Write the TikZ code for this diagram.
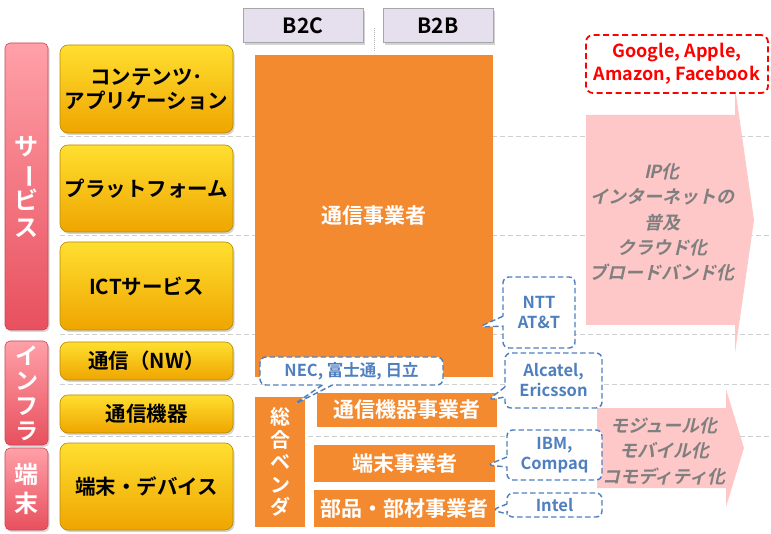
\documentclass[tikz,border=0pt]{standalone}
\usepackage{fontspec}
\setmainfont{Noto Sans CJK JP}[BoldFont={* Bold}]
\newfontfamily\jpsl{Noto Sans CJK JP Bold}[FakeSlant=0.22]
\usetikzlibrary{shadows,shapes.callouts}
\definecolor{orng}{HTML}{F38A30}
\definecolor{ytop}{HTML}{FFDF30}
\definecolor{ymid}{HTML}{FFC400}
\definecolor{ybot}{HTML}{EFA500}
\definecolor{ybrd}{HTML}{B88A00}
\definecolor{ptop}{HTML}{FFA0A8}
\definecolor{pbot}{HTML}{E8505E}
\definecolor{pbrd}{HTML}{C84858}
\definecolor{lav}{HTML}{E6E0EE}
\definecolor{cblue}{HTML}{4F7FBF}
\definecolor{lpink}{HTML}{FFC8C8}
\definecolor{grtxt}{HTML}{7F7F7F}
\definecolor{sepc}{HTML}{D0D0D0}
\tikzset{
  ybox/.style={draw=ybrd, line width=0.6pt, rounded corners=8pt, top color=ytop, middle color=ymid, bottom color=ybot,
    drop shadow={opacity=0.35, shadow xshift=1.5pt, shadow yshift=-2pt},
    minimum width=173pt, font=\bfseries\fontsize{20.5}{24}\selectfont, align=center, inner sep=0pt},
  pbox/.style={draw=pbrd, line width=0.6pt, rounded corners=5pt, top color=ptop, bottom color=pbot,
    drop shadow={opacity=0.3, shadow xshift=1.5pt, shadow yshift=-2pt},
    minimum width=43pt, text=white, align=center, inner sep=0pt},
  hbox/.style={draw=gray!70, line width=1pt, fill=lav, minimum height=34pt,
    drop shadow={opacity=0.35, shadow xshift=1.5pt, shadow yshift=-2pt},
    font=\bfseries\fontsize{21}{23}\selectfont, inner sep=0pt},
  obox/.style={fill=orng, text=white, inner sep=0pt, align=center},
  bcall/.style={rectangle callout, draw=cblue, dash pattern=on 5.5pt off 3pt, line width=1.4pt, rounded corners=6pt, fill=white,
    text=cblue, font=\bfseries\fontsize{16.5}{20}\selectfont, align=center, inner sep=0pt, callout pointer width=10pt},
  sep/.style={draw=sepc, dash pattern=on 5pt off 3pt, line width=0.9pt},
  arrtxt/.style={text=grtxt, align=center, font=\jpsl\fontsize{18}{25.3}\selectfont}
}
\begin{document}
\begin{tikzpicture}[x=1pt,y=-1pt]
\useasboundingbox (0,0) rectangle (771,534);
% separators
\foreach \yy in {136,235,334,384,436}{ \path[sep] (60,\yy) -- (771,\yy); }
% pink arrows
\fill[lpink] (586,115) -- (735,115) -- (735,87) -- (754,220) -- (735,353) -- (735,325) -- (586,325) -- cycle;
\fill[lpink] (597,408) -- (726,408) -- (726,389) -- (744,448) -- (726,507) -- (726,488) -- (597,488) -- cycle;
\node[arrtxt] (t1) at (662,222.5) {IP化\\インターネットの\\普及\\クラウド化\\ブロードバンド化};
\node[arrtxt] (t2) at (664,451) {モジュール化\\モバイル化\\コモディティ化};
% left labels
\node[pbox, minimum height=287pt, font=\bfseries\fontsize{24}{27}\selectfont] (s1) at (26.5,186.5) {サ\\\rotatebox[origin=c]{-90}{ー}\\ビ\\ス};
\node[pbox, minimum height=104pt, font=\bfseries\fontsize{23}{25}\selectfont] (s2) at (26.5,393) {イ\\ン\\フ\\ラ};
\node[pbox, minimum height=82pt, font=\bfseries\fontsize{24}{29}\selectfont] (s3) at (26.5,489) {端\\末};
% yellow boxes
\node[ybox, minimum height=88pt] (c1) at (146.5,89) {コンテンツ･\\アプリケーション};
\node[ybox, minimum height=87pt] (c2) at (146.5,188.5) {プラットフォーム};
\node[ybox, minimum height=88pt] (c3) at (146.5,286) {ICTサービス};
\node[ybox, minimum height=38pt] (c4) at (146.5,361) {通信（NW）};
\node[ybox, minimum height=38pt] (c5) at (146.5,414) {通信機器};
\node[ybox, minimum height=87pt] (c6) at (146.5,486.5) {端末・デバイス};
% headers
\node[hbox, minimum width=120pt] (b2c) at (303,26) {B2C};
\node[hbox, minimum width=110pt] (b2b) at (438,26) {B2B};
\coordinate (d1) at (374,28);
\coordinate (d2) at (374,52);
\draw[gray!60, densely dotted, line width=1pt] (d1) -- (d2);
% orange boxes
\node[obox, minimum width=238pt, minimum height=322pt, font=\bfseries\fontsize{21}{24}\selectfont] (op) at (374,216) {通信事業者};
\node[obox, minimum width=50pt, minimum height=130pt, font=\bfseries\fontsize{20}{22.5}\selectfont] (sv) at (280,462) {総\\合\\ベ\\ン\\ダ};
\node[obox, minimum width=180pt, minimum height=34pt, font=\bfseries\fontsize{21}{24}\selectfont] (ce) at (407,410) {通信機器事業者};
\node[obox, minimum width=181pt, minimum height=37pt, font=\bfseries\fontsize{21}{24}\selectfont] (te) at (404.5,463.5) {端末事業者};
\node[obox, minimum width=181pt, minimum height=37pt, font=\bfseries\fontsize{21}{24}\selectfont] (bu) at (404.5,508.5) {部品・部材事業者};
% callouts
\coordinate (pNTT) at (479,327);
\coordinate (pNEC) at (293,405);
\coordinate (pAlc) at (488,400);
\coordinate (pIBM) at (487,465);
\coordinate (pInt) at (492,510);
\node[bcall, minimum width=72pt, minimum height=71pt, callout absolute pointer={(pNTT)}] (ntt) at (539,312.5) {NTT\\AT\&T};
\node[bcall, minimum width=183pt, minimum height=28pt, callout absolute pointer={(pNEC)}] (nec) at (351.5,371) {NEC, 富士通, 日立};
\node[bcall, minimum width=97pt, minimum height=55pt, callout absolute pointer={(pAlc)}] (alc) at (553.5,380.5) {Alcatel,\\Ericsson};
\node[bcall, minimum width=95pt, minimum height=50pt, callout absolute pointer={(pIBM)}] (ibm) at (554.5,455) {IBM,\\Compaq};
\node[bcall, minimum width=95pt, minimum height=24pt, callout absolute pointer={(pInt)}] (intel) at (554.5,505) {Intel};
% google
\node[draw=red, dash pattern=on 6pt off 3.5pt, line width=1.8pt, rounded corners=7pt, fill=white, text=red, align=center,
  font=\bfseries\fontsize{18}{23}\selectfont, minimum width=182pt, minimum height=58pt, inner sep=0pt] (goog) at (677,64) {Google, Apple,\\Amazon, Facebook};
\end{tikzpicture}
\end{document}
